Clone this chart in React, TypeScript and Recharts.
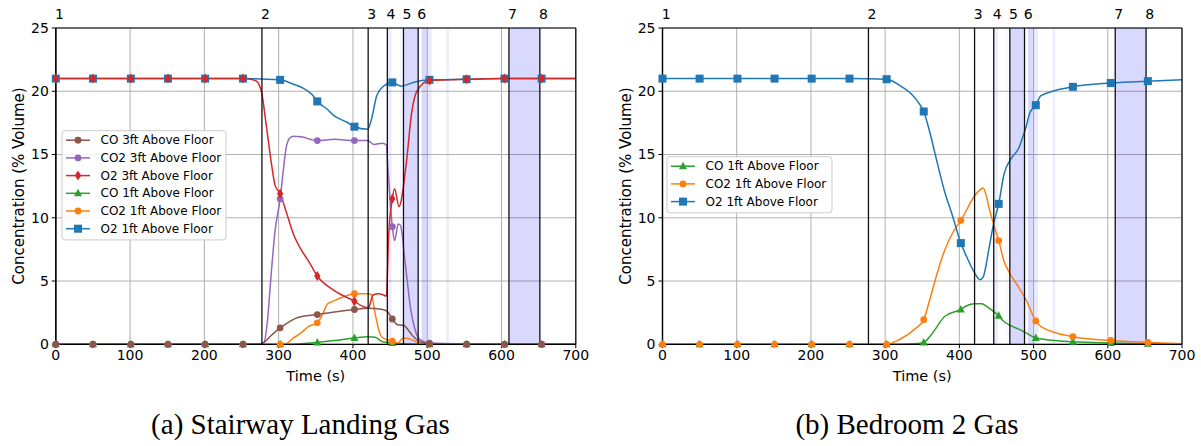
import { LineChart, Line, XAxis, YAxis, CartesianGrid, ReferenceLine, ReferenceArea } from 'recharts'

type Pt = [number, number]
type Marker = 'circle' | 'square' | 'diamond' | 'triangle'

// time (s) of the sample that carries a marker
const markerTimes = [0, 50, 101, 151, 201, 252, 302, 352, 402, 453, 503, 553, 604, 654]
const xTicks = [0, 100, 200, 300, 400, 500, 600, 700]
const yTicks = [0, 5, 10, 15, 20, 25]

// numbered events, drawn as vertical lines
const eventTimes = [0, 277.5, 420.5, 446.3, 468, 487.8, 610, 651.6]
const eventLabels = ['1', '2', '3', '4', '5', '6', '7', '8']

// shaded time spans
const strongSpans: Pt[] = [[468, 487.8], [492.5, 499], [610, 651.6]]
const faintSpans: Pt[] = [[446.5, 452], [463.8, 464.8], [499, 506], [526, 529]]

// (a) stairway landing
const stairCO3: Pt[] = [
  [0, 0], [50, 0], [101, 0], [151, 0], [201, 0], [252, 0], [272, 0], [280, 0.15], [290, 0.7],
  [302, 1.3], [312, 1.7], [325, 2.1], [352, 2.35], [375, 2.55], [402, 2.75], [420, 2.85],
  [440, 2.75], [446, 2.6], [453, 2.0], [460, 1.55], [468, 1.5], [480, 0.7], [490, 0.2],
  [503, 0.05], [553, 0], [604, 0], [654, 0], [700, 0],
]
const stairCO2_3: Pt[] = [
  [0, 0], [50, 0], [101, 0], [151, 0], [201, 0], [252, 0], [275, 0], [280, 0.1], [285, 1.9],
  [290, 5.6], [295, 8.9], [302, 11.5], [306, 13.6], [310, 15.5], [315, 16.3], [320, 16.45],
  [330, 16.4], [352, 16.1], [375, 16.2], [402, 16.1], [420, 16.1], [428, 15.8], [440, 15.9],
  [445, 15.75], [447, 14], [453, 9.3], [456, 8.2], [461, 9.5], [464, 9.4], [470, 6.6],
  [478, 2.7], [485, 0.9], [492, 0.3], [503, 0.1], [553, 0.02], [604, 0], [654, 0], [700, 0],
]
const stairO2_3: Pt[] = [
  [0, 21], [50, 21], [101, 21], [151, 21], [201, 21], [252, 21], [262, 20.95], [270, 20.8],
  [277, 19.9], [284, 17], [290, 14.4], [295, 12.6], [302, 11.9], [310, 10.5], [320, 8.7],
  [330, 7.5], [340, 6.6], [352, 5.4], [375, 4.25], [402, 3.4], [415, 2.95], [421, 2.9],
  [427, 3.9], [435, 4.0], [441, 3.9], [445, 3.8], [448, 8.5], [453, 11.5], [456, 12.3],
  [462, 10.9], [472, 14.4], [479, 18.3], [486, 20.0], [503, 20.85], [553, 20.95], [604, 21],
  [654, 21], [700, 21],
]
const stairCO1: Pt[] = [
  [0, 0], [50, 0], [101, 0], [151, 0], [201, 0], [252, 0], [302, 0], [352, 0.15], [375, 0.3],
  [402, 0.5], [420, 0.6], [430, 0.55], [440, 0.2], [453, 0.1], [470, 0.05], [503, 0], [553, 0],
  [604, 0], [654, 0], [700, 0],
]
const stairCO2_1: Pt[] = [
  [0, 0], [50, 0], [101, 0], [151, 0], [201, 0], [252, 0], [302, 0], [310, 0.05], [320, 0.5],
  [330, 0.9], [340, 1.4], [352, 1.7], [360, 2.5], [366, 3.2], [375, 3.45], [385, 3.7], [402, 4.0],
  [420, 4.0], [425, 3.9], [430, 2.4], [435, 1.1], [440, 0.5], [453, 0.25], [460, 0.1], [468, 0.5],
  [480, 0.35], [490, 0.05], [503, 0], [553, 0], [604, 0], [654, 0], [700, 0],
]
const stairO2_1: Pt[] = [
  [0, 21], [50, 21], [101, 21], [151, 21], [201, 21], [252, 21], [302, 20.9], [320, 20.55],
  [331, 20.3], [344, 19.8], [352, 19.2], [365, 18.6], [374, 18.1], [383, 17.8], [392, 17.55],
  [402, 17.2], [420, 17.0], [425, 17.8], [432, 19.65], [441, 20.4], [453, 20.7], [465, 20.4],
  [481, 20.7], [503, 20.9], [553, 20.95], [604, 21], [654, 21], [700, 21],
]

// (b) bedroom 2
const bedCO1: Pt[] = [
  [0, 0], [50, 0], [101, 0], [151, 0], [201, 0], [252, 0], [302, 0], [340, 0.05], [352, 0.15],
  [360, 0.6], [370, 1.4], [380, 2.2], [402, 2.75], [410, 3.05], [420, 3.2], [430, 3.2],
  [440, 2.85], [453, 2.25], [460, 1.8], [470, 1.45], [480, 1.2], [490, 0.9], [503, 0.5],
  [553, 0.2], [604, 0.1], [654, 0.05], [700, 0],
]
const bedCO2_1: Pt[] = [
  [0, 0], [50, 0], [101, 0], [151, 0], [201, 0], [252, 0], [302, 0], [320, 0.4], [340, 1.2],
  [352, 1.95], [360, 3.5], [370, 5.6], [380, 7.4], [390, 8.7], [402, 9.8], [410, 10.65],
  [420, 11.7], [428, 12.2], [432, 12.35], [436, 11.8], [440, 10.8], [446, 9.5], [453, 8.2],
  [460, 6.6], [470, 5.4], [480, 4.5], [490, 3.5], [503, 1.85], [510, 1.4], [553, 0.6],
  [604, 0.3], [654, 0.15], [700, 0.05],
]
const bedO2_1: Pt[] = [
  [0, 21], [50, 21], [101, 21], [151, 21], [201, 21], [252, 21], [302, 20.95], [320, 20.45],
  [335, 19.8], [345, 19.1], [352, 18.4], [360, 16.8], [370, 14.4], [380, 12.1], [390, 10.3],
  [402, 8.0], [410, 6.9], [420, 5.7], [428, 5.1], [432, 5.3], [440, 7.6], [446, 9.5],
  [453, 11.1], [460, 13.4], [470, 14.7], [480, 15.5], [485, 16.3], [490, 17.2], [495, 18.3],
  [503, 18.9], [510, 19.65], [553, 20.35], [604, 20.65], [654, 20.8], [700, 20.9],
]

const FONT = 'DejaVu Sans, sans-serif'
const COLORS = {
  blue: '#1f77b4', orange: '#ff7f0e', green: '#2ca02c',
  red: '#d62728', purple: '#9467bd', brown: '#8c564b',
}

interface Series {
  name: string
  data: Pt[]
  color: string
  marker: Marker
}

const stairSeries: Series[] = [
  { name: 'CO 1ft Above Floor', data: stairCO1, color: COLORS.green, marker: 'triangle' },
  { name: 'CO2 1ft Above Floor', data: stairCO2_1, color: COLORS.orange, marker: 'circle' },
  { name: 'O2 1ft Above Floor', data: stairO2_1, color: COLORS.blue, marker: 'square' },
  { name: 'CO2 3ft Above Floor', data: stairCO2_3, color: COLORS.purple, marker: 'circle' },
  { name: 'O2 3ft Above Floor', data: stairO2_3, color: COLORS.red, marker: 'diamond' },
  { name: 'CO 3ft Above Floor', data: stairCO3, color: COLORS.brown, marker: 'circle' },
]
const stairLegend = [5, 3, 4, 0, 1, 2].map((i) => stairSeries[i])

const bedSeries: Series[] = [
  { name: 'CO 1ft Above Floor', data: bedCO1, color: COLORS.green, marker: 'triangle' },
  { name: 'CO2 1ft Above Floor', data: bedCO2_1, color: COLORS.orange, marker: 'circle' },
  { name: 'O2 1ft Above Floor', data: bedO2_1, color: COLORS.blue, marker: 'square' },
]

const markerSet = new Set(markerTimes)
const toRows = (pts: Pt[]) => pts.map(([t, v]) => ({ t, v }))

function MarkerShape({ kind, x, y, color }: { kind: Marker; x: number; y: number; color: string }) {
  if (kind === 'square') return <rect x={x - 4} y={y - 4} width={8} height={8} fill={color} />
  if (kind === 'diamond')
    return <polygon points={`${x},${y - 5} ${x + 3.2},${y} ${x},${y + 5} ${x - 3.2},${y}`} fill={color} />
  if (kind === 'triangle')
    return <polygon points={`${x},${y - 4.5} ${x + 4},${y + 3} ${x - 4},${y + 3}`} fill={color} />
  return <circle cx={x} cy={y} r={3.4} fill={color} />
}

function makeDot(kind: Marker, color: string) {
  // eslint-disable-next-line @typescript-eslint/no-explicit-any
  return (props: any) => {
    const { cx, cy, payload, index } = props
    if (!markerSet.has(payload.t)) return <g key={`d${index}`} />
    return (
      <g key={`d${index}`}>
        <MarkerShape kind={kind} x={cx} y={cy} color={color} />
      </g>
    )
  }
}

function yLabel(cx: number, cy: number) {
  return () => (
    <text
      x={cx}
      y={cy}
      transform={`rotate(-90 ${cx} ${cy})`}
      textAnchor="middle"
      dominantBaseline="central"
      fontSize={15}
      fontFamily={FONT}
      fill="#000"
    >
      Concentration (% Volume)
    </text>
  )
}

function eventLabel(text: string) {
  // eslint-disable-next-line @typescript-eslint/no-explicit-any
  return (props: any) => {
    const vb = props.viewBox || {}
    return (
      <text x={vb.x + 3.6} y={vb.y - 9.5} textAnchor="middle" fontSize={14} fontFamily={FONT} fill="#000">
        {text}
      </text>
    )
  }
}

const tickStyle = { fill: '#000', fontSize: 14, fontFamily: FONT }

interface PanelProps {
  width: number
  left: number
  right: number
  labelX: number
  series: Series[]
}

function Panel({ width, left, right, labelX, series }: PanelProps) {
  return (
    <LineChart width={width} height={446} margin={{ top: 28, right, bottom: 73.7, left }}>
      <CartesianGrid stroke="#b0b0b0" strokeWidth={1} />
      {strongSpans.map(([a, b]) => (
        <ReferenceArea key={`s${a}`} x1={a} x2={b} fill="#0000ff" fillOpacity={0.15} stroke="none" />
      ))}
      {faintSpans.map(([a, b]) => (
        <ReferenceArea key={`f${a}`} x1={a} x2={b} fill="#0000ff" fillOpacity={0.08} stroke="none" />
      ))}
      <XAxis
        dataKey="t"
        type="number"
        domain={[0, 700]}
        ticks={xTicks}
        height={28}
        tick={tickStyle}
        tickSize={4}
        tickMargin={2}
        axisLine={{ stroke: '#000', strokeWidth: 1.2 }}
        tickLine={{ stroke: '#000' }}
        label={{ value: 'Time (s)', position: 'bottom', offset: -2, fill: '#000', fontSize: 14.5, fontFamily: FONT }}
      />
      <YAxis
        type="number"
        domain={[0, 25]}
        ticks={yTicks}
        width={40}
        tick={tickStyle}
        tickSize={4}
        tickMargin={3}
        axisLine={{ stroke: '#000', strokeWidth: 1.2 }}
        tickLine={{ stroke: '#000' }}
        label={yLabel(labelX, 186)}
      />
      {series.map((s) => (
        <Line
          key={s.name}
          data={toRows(s.data)}
          dataKey="v"
          type="monotone"
          stroke={s.color}
          strokeWidth={1.5}
          dot={makeDot(s.marker, s.color)}
          activeDot={false}
          isAnimationActive={false}
        />
      ))}
      <ReferenceLine y={25} stroke="#000" strokeWidth={1.2} />
      <ReferenceLine x={700} stroke="#000" strokeWidth={1.2} />
      {eventTimes.map((t, i) => (
        <ReferenceLine key={`e${i}`} x={t} stroke="#111" strokeWidth={1.3} label={eventLabel(eventLabels[i])} />
      ))}
    </LineChart>
  )
}

function Legend({ x, y, w, rows, items }: { x: number; y: number; w: number; rows: number; items: Series[] }) {
  const h = rows * 17.7 + 3
  return (
    <g>
      <rect x={x} y={y} width={w} height={h} rx={3} fill="#fff" fillOpacity={0.85} stroke="#cccccc" />
      {items.map((s, i) => {
        const cy = y + 9.5 + i * 17.7
        return (
          <g key={s.name}>
            <line x1={x + 4} x2={x + 28} y1={cy} y2={cy} stroke={s.color} strokeWidth={1.5} />
            <MarkerShape kind={s.marker} x={x + 16} y={cy} color={s.color} />
            <text x={x + 38.5} y={cy} dominantBaseline="central" fontSize={12} fontFamily={FONT} fill="#000">
              {s.name}
            </text>
          </g>
        )
      })}
    </g>
  )
}

export default function App() {
  return (
    <div style={{ position: 'fixed', left: 0, top: 0, width: 1201, height: 446, background: '#fff' }}>
      <div style={{ position: 'absolute', left: 0, top: 0 }}>
        <Panel width={600} left={15.8} right={24.2} labelX={18.8} series={stairSeries} />
      </div>
      <div style={{ position: 'absolute', left: 600, top: 0 }}>
        <Panel width={601} left={22.5} right={19} labelX={25.5} series={bedSeries} />
      </div>
      <svg width={1201} height={446} style={{ position: 'absolute', left: 0, top: 0, pointerEvents: 'none' }}>
        <Legend x={62} y={130.7} w={164} rows={6} items={stairLegend} />
        <Legend x={667} y={156.7} w={165} rows={3} items={[bedSeries[0], bedSeries[1], bedSeries[2]]} />
        <text x={300.5} y={434} textAnchor="middle" fontSize={29} fontFamily="Liberation Serif, serif" fill="#000">
          (a) Stairway Landing Gas
        </text>
        <text x={907} y={434} textAnchor="middle" fontSize={29} fontFamily="Liberation Serif, serif" fill="#000">
          (b) Bedroom 2 Gas
        </text>
      </svg>
    </div>
  )
}
